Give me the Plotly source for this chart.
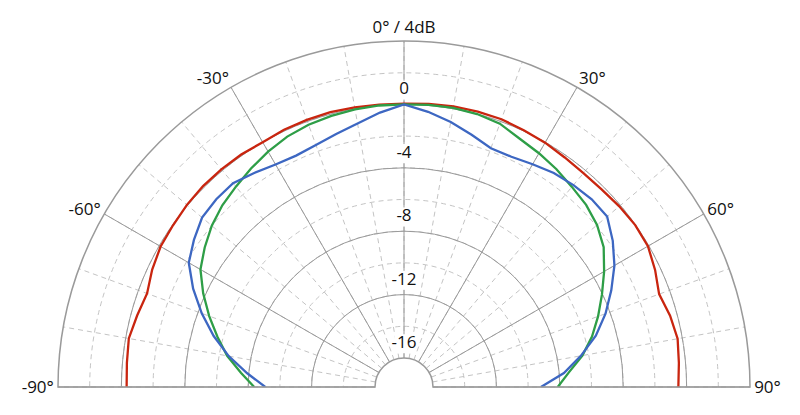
import plotly.graph_objects as go

# angle off axis in degrees (negative = left side)
angles = [-90, -85, -80, -75, -70, -65, -60, -55, -50, -45, -40, -35, -30,
          -25, -20, -15, -10, -5, 0, 5, 10, 15, 20, 25, 30, 35, 40, 45, 50,
          55, 60, 65, 70, 75, 80, 85, 90]

# relative level in dB
red_db = [-0.33, -0.28, -0.2, -0.4, -0.58, -0.3, -0.1, -0.04, 0.05, 0.1, 0.1,
          0.08, 0.0, 0.08, 0.1, 0.12, 0.08, 0.05, 0.05, 0.1, 0.15, 0.15, 0.15,
          0.05, -0.03, -0.15, -0.22, -0.2, -0.1, -0.02, -0.06, -0.35, -0.7,
          -0.45, -0.3, -0.42, -0.52]
green_db = [-8.38, -7.5, -6.5, -5.65, -4.75, -3.85, -3.0, -2.48, -2.0, -1.62,
            -1.33, -1.0, -0.68, -0.4, -0.22, -0.12, -0.04, 0.0, 0.0, 0.04,
            0.05, 0.0, -0.15, -0.55, -0.8, -1.06, -1.35, -1.58, -1.93, -2.45,
            -3.25, -4.05, -4.8, -5.55, -6.4, -7.4, -8.13]
blue_db = [-9.08, -7.9, -6.6, -5.4, -4.25, -3.15, -2.15, -1.65, -1.2, -1.08,
           -1.05, -1.35, -1.62, -1.72, -1.58, -1.3, -0.95, -0.45, 0.0, -0.4,
           -0.85, -1.35, -1.8, -1.8, -1.6, -1.35, -1.2, -1.08, -1.1, -1.75,
           -2.5, -3.4, -4.3, -5.3, -6.5, -7.7, -9.19]

angle_ticks = [-90, -60, -30, 0, 30, 60, 90]
angle_labels = ["-90°", "-60°", "-30°", "0° / 4dB", "30°", "60°", "90°"]
level_ticks = [-16, -12, -8, -4, 0]
level_range = [-16, 4]

FONT = "Open Sans"
MAJOR = "#9a9a9a"
MINOR = "#c4c4c4"
HOLE = 29 / 346

fig = go.Figure()

# empty trace so the dashed (minor) grid subplot gets drawn
fig.add_trace(go.Scatterpolar(r=[], theta=[], subplot="polar",
                              showlegend=False, hoverinfo="skip"))

# radial level labels on the 0 deg spoke, white box behind each
fig.add_trace(go.Scatterpolar(
    r=[t + 0.9 for t in level_ticks],
    theta=[0] * len(level_ticks),
    text=[str(t) for t in level_ticks],
    mode="markers+text",
    textposition="middle center",
    textfont=dict(family=FONT, size=17, color="#111111"),
    marker=dict(symbol="square", size=19, color="white"),
    subplot="polar2", showlegend=False, hoverinfo="skip",
))

for name, vals, col in [("red", red_db, "#c9250f"),
                        ("green", green_db, "#2e9e47"),
                        ("blue", blue_db, "#3d67c2")]:
    fig.add_trace(go.Scatterpolar(
        r=vals, theta=angles, mode="lines", name=name,
        line=dict(color=col, width=2.3),
        subplot="polar2", showlegend=False,
    ))

fig.update_layout(
    width=800, height=415,
    margin=dict(l=50, r=58, t=33, b=36),
    paper_bgcolor="white",
    font=dict(family=FONT, size=17, color="#111111"),
    polar=dict(
        domain=dict(x=[0, 1], y=[0, 1]),
        sector=[0, 180], hole=HOLE, bgcolor="white",
        angularaxis=dict(rotation=90, direction="clockwise",
                         tickmode="linear", tick0=0, dtick=10,
                         showticklabels=False, ticks="", showline=False,
                         gridcolor=MINOR, griddash="5px,4px", gridwidth=1),
        radialaxis=dict(range=level_range, tickmode="linear", tick0=-16,
                        dtick=2, showticklabels=False, ticks="",
                        showline=False, gridcolor=MINOR, griddash="5px,4px",
                        gridwidth=1),
    ),
    polar2=dict(
        domain=dict(x=[0, 1], y=[0, 1]),
        sector=[0, 180], hole=HOLE, bgcolor="rgba(0,0,0,0)",
        angularaxis=dict(rotation=90, direction="clockwise",
                         tickmode="array", tickvals=angle_ticks,
                         ticktext=angle_labels, ticks="",
                         showline=True, linecolor=MAJOR, linewidth=1.5,
                         gridcolor=MAJOR, gridwidth=1.3,
                         tickfont=dict(family=FONT, size=17, color="#111111")),
        radialaxis=dict(range=level_range, tickmode="array",
                        tickvals=level_ticks, showticklabels=False,
                        ticks="", showline=False,
                        gridcolor=MAJOR, gridwidth=1.3),
    ),
)

fig.write_html("out.html")
